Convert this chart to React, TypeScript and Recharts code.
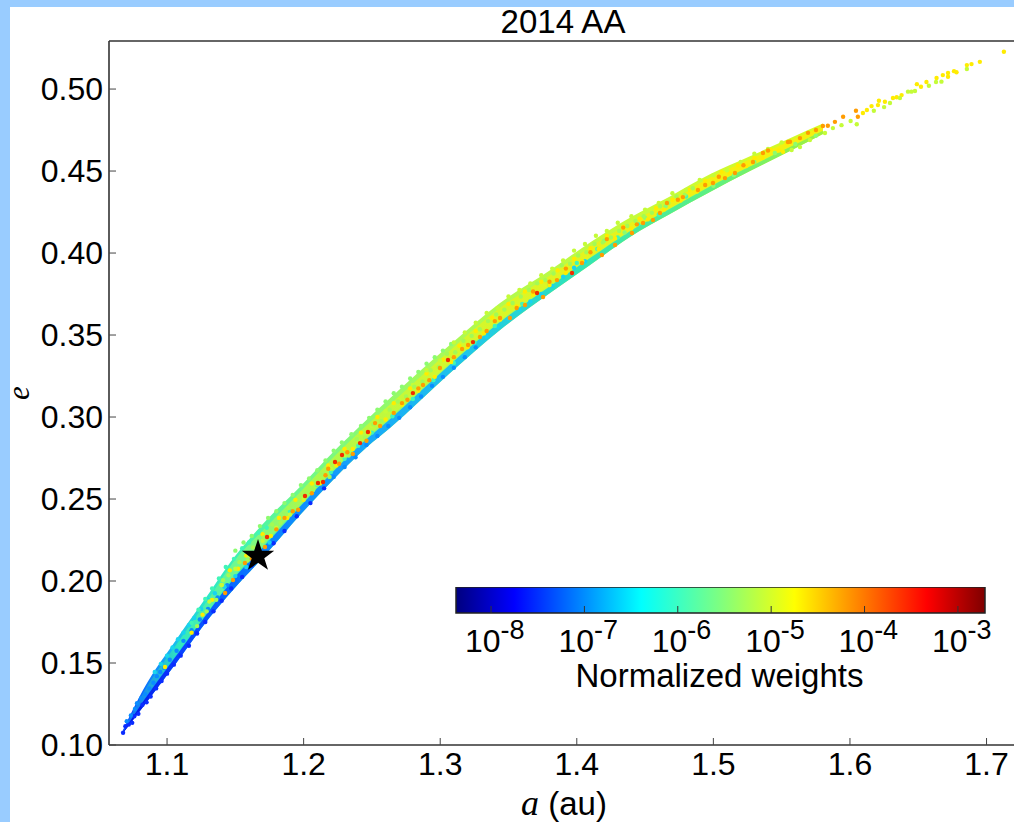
import { ComposedChart, Area, Scatter, XAxis, YAxis, ReferenceArea } from 'recharts';

const FONT = "'Liberation Sans', Arial, sans-serif";

const aTicks = [1.1, 1.2, 1.3, 1.4, 1.5, 1.6, 1.7];
const eTicks = [0.1, 0.15, 0.2, 0.25, 0.3, 0.35, 0.4, 0.45, 0.5];
const weightTicks = [-8, -7, -6, -5, -4, -3];

// outline of the swarm
const edgeA = [1.0678, 1.0824, 1.1073, 1.1315, 1.1483, 1.1732, 1.1974, 1.2215, 1.2464, 1.2632, 1.3072, 1.3438, 1.3804, 1.4097, 1.4389, 1.4682, 1.4975, 1.5268, 1.5561, 1.5802];
const edgeLow = [0.1073, 0.1232, 0.1506, 0.178, 0.1945, 0.2171, 0.2402, 0.2616, 0.2817, 0.2933, 0.3268, 0.353, 0.3756, 0.3927, 0.4098, 0.4238, 0.4372, 0.45, 0.4622, 0.4726];
const edgeUp = [0.1091, 0.1335, 0.165, 0.1935, 0.2135, 0.2375, 0.2575, 0.2785, 0.2985, 0.3115, 0.344, 0.3695, 0.3895, 0.4065, 0.4215, 0.4345, 0.448, 0.459, 0.47, 0.479];
const floorUp = [0.1078, 0.1263, 0.155, 0.1827, 0.2009, 0.2232, 0.2454, 0.2666, 0.2867, 0.2987, 0.332, 0.3579, 0.3798, 0.3969, 0.4133, 0.427, 0.4405, 0.4527, 0.4646, 0.4745];
const coreLow = [0.1079, 0.1268, 0.1556, 0.1833, 0.202, 0.2243, 0.2464, 0.2675, 0.2877, 0.2997, 0.3329, 0.3589, 0.3805, 0.3975, 0.4139, 0.4275, 0.441, 0.4531, 0.4649, 0.4748];
const coreUp = [0.1087, 0.1315, 0.1619, 0.1904, 0.2113, 0.2334, 0.2541, 0.2751, 0.2951, 0.3077, 0.3406, 0.3666, 0.3863, 0.4037, 0.4181, 0.4316, 0.4459, 0.4572, 0.4684, 0.4777];

// points per colour bin, as [a, e]
const bluePts = [[1.0678,.1075],[1.0695,.1115],[1.072,.1125],[1.0745,.1135],[1.076,.1175],[1.079,.119],[1.082,.1245],[1.085,.126],[1.088,.1295],[1.092,.1345],[1.096,.139],[1.1,.1435],[1.105,.149],[1.11,.1545],[1.116,.1605],[1.122,.168],[1.128,.175],[1.134,.1815],[1.14,.188],[1.147,.1955],[1.155,.2025],[1.162,.2095],[1.17,.2165],[1.178,.223],[1.186,.2305],[1.195,.2395],[1.205,.2475],[1.215,.2565]];
const azurePts = [[1.0705,.1145],[1.0735,.118],[1.0765,.122],[1.078,.1255],[1.081,.1285],[1.084,.131],[1.087,.1345],[1.09,.138],[1.0925,.142],[1.095,.1445],[1.098,.147],[1.102,.152],[1.107,.1575],[1.112,.1635],[1.118,.17],[1.124,.1765],[1.13,.183],[1.137,.19],[1.144,.1975],[1.222,.2635],[1.23,.2695],[1.238,.2755],[1.246,.283],[1.254,.2885],[1.262,.2945],[1.27,.2995],[1.278,.306],[1.286,.3125],[1.294,.319],[1.302,.3245],[1.31,.33],[1.318,.3365],[1.326,.3425]];
const cyanPts = [[1.091,.1445],[1.0955,.1495],[1.1,.1545],[1.104,.1595],[1.108,.1645],[1.112,.1685],[1.116,.173],[1.12,.1775],[1.125,.183],[1.13,.1885],[1.135,.1925],[1.142,.1965],[1.15,.203],[1.158,.2085],[1.166,.2145],[1.175,.2235],[1.334,.349],[1.342,.355],[1.35,.36],[1.358,.3655],[1.366,.3705],[1.374,.375],[1.382,.38],[1.39,.3855],[1.398,.391],[1.406,.395]];
const aquaPts = [[1.118,.1745],[1.123,.1825],[1.128,.189],[1.133,.1955],[1.138,.2015],[1.143,.2085],[1.149,.2135],[1.155,.22],[1.16,.2235],[1.167,.2295],[1.173,.2325],[1.19,.2425],[1.2,.25],[1.21,.2585],[1.22,.2665],[1.23,.2745],[1.24,.2825],[1.25,.2905],[1.265,.3005],[1.28,.311],[1.295,.3225],[1.31,.333],[1.325,.3455],[1.34,.3555],[1.36,.369],[1.38,.3805],[1.4,.394],[1.415,.4025],[1.43,.4095],[1.445,.4175],[1.46,.4235],[1.48,.4345]];
const greenPts = [[1.15,.2185],[1.156,.2235],[1.162,.2275],[1.168,.2335],[1.174,.2385],[1.18,.2425],[1.186,.2475],[1.192,.2525],[1.198,.2585],[1.204,.2625],[1.21,.2675],[1.216,.2735],[1.222,.2795],[1.228,.2845],[1.235,.2895],[1.242,.2945],[1.248,.2995],[1.254,.3045],[1.26,.3095],[1.266,.3145],[1.272,.3185],[1.278,.3235],[1.284,.3275],[1.29,.3325],[1.296,.3365],[1.302,.3405],[1.308,.3445],[1.42,.4075],[1.435,.4125],[1.45,.4215],[1.465,.4285],[1.5,.441],[1.515,.4475],[1.53,.4555],[1.545,.461],[1.56,.4665],[1.575,.4715]];
const yellowPts = [[1.0985,.1476],[1.118,.1685],[1.126,.1795],[1.133,.1885],[1.14,.1975],[1.146,.2065],[1.152,.2075],[1.158,.2155],[1.164,.2165],[1.17,.2285],[1.176,.2275],[1.182,.2385],[1.188,.2385],[1.194,.2495],[1.2,.2495],[1.206,.2595],[1.212,.2595],[1.218,.2705],[1.224,.2705],[1.23,.2805],[1.236,.2805],[1.242,.2905],[1.248,.2905],[1.254,.3],[1.26,.2985],[1.266,.3085],[1.272,.3075],[1.278,.3175],[1.284,.316],[1.29,.3265],[1.296,.3245],[1.302,.335],[1.308,.3335],[1.314,.3435],[1.32,.3425],[1.326,.3525],[1.332,.351],[1.338,.3605],[1.344,.3595],[1.35,.369],[1.356,.3675],[1.362,.3765],[1.368,.3745],[1.374,.3825],[1.38,.3805],[1.386,.3895],[1.392,.388],[1.398,.3965],[1.404,.395],[1.41,.403],[1.416,.4025],[1.422,.4105],[1.428,.409],[1.434,.416],[1.44,.415],[1.446,.421],[1.452,.4205],[1.458,.4275],[1.464,.4265],[1.47,.4325],[1.476,.432],[1.482,.4385],[1.488,.4375],[1.494,.444],[1.5,.443],[1.506,.4495],[1.512,.4485],[1.518,.4535],[1.524,.453],[1.53,.458],[1.536,.458],[1.542,.463],[1.548,.4625],[1.554,.467],[1.7127,.5227],[1.6951,.5166],[1.689,.5152],[1.6856,.5146],[1.678,.5102],[1.6762,.5109],[1.6718,.5098],[1.6718,.5075],[1.668,.5085],[1.6634,.5067],[1.656,.5043],[1.652,.5014],[1.649,.503],[1.6378,.4963],[1.6342,.495],[1.6315,.4945],[1.6256,.4923],[1.6212,.4929],[1.6205,.4902],[1.6158,.4896],[1.6124,.4872],[1.6095,.4854],[1.551,.4617]];
const limePts = [[1.131,.1875],[1.14,.1975],[1.15,.2075],[1.16,.2155],[1.17,.2245],[1.18,.2325],[1.19,.2405],[1.2,.2505],[1.21,.2595],[1.22,.2685],[1.23,.2765],[1.24,.2855],[1.25,.2945],[1.26,.3035],[1.27,.3105],[1.28,.3195],[1.29,.3285],[1.3,.3345],[1.31,.3455],[1.318,.3515],[1.326,.3575],[1.334,.3635],[1.342,.3665],[1.35,.3735],[1.358,.3775],[1.366,.3815],[1.374,.3865],[1.382,.3905],[1.39,.3955],[1.398,.4015],[1.406,.4055],[1.414,.4105],[1.422,.4135],[1.43,.4185],[1.44,.4225],[1.45,.4265],[1.46,.4305],[1.47,.4365],[1.48,.4385],[1.49,.4445],[1.5,.4475],[1.51,.4505],[1.52,.4555],[1.53,.4605],[1.54,.4635],[1.55,.4675],[1.605,.4785],[1.6175,.4868],[1.6005,.4805],[1.5938,.478],[1.5875,.4762],[1.5817,.4732],[1.5707,.4689],[1.5634,.4646],[1.5573,.4628],[1.625,.489],[1.6293,.4915],[1.6366,.4945],[1.6476,.4988],[1.645,.4984],[1.6425,.4984],[1.6578,.502],[1.667,.5045],[1.663,.5043],[1.6856,.5122]];
const speckPts = [[1.122,.1725],[1.129,.1815],[1.136,.1885],[1.141,.2005],[1.145,.2035],[1.153,.2115],[1.159,.2125],[1.163,.2205],[1.171,.2265],[1.177,.2345],[1.183,.2355],[1.189,.2445],[1.195,.2455],[1.203,.2545],[1.207,.2555],[1.213,.2655],[1.219,.2635],[1.226,.2725],[1.233,.2765],[1.239,.2865],[1.245,.2875],[1.251,.2955],[1.257,.2975],[1.263,.3045],[1.269,.3095],[1.275,.3125],[1.281,.3185],[1.287,.3215],[1.293,.3285],[1.299,.3305],[1.305,.3385],[1.311,.3395],[1.317,.3465],[1.323,.3495],[1.329,.3535],[1.335,.3585],[1.341,.3625],[1.347,.3655],[1.353,.3695],[1.359,.3735],[1.365,.3775],[1.371,.3815],[1.377,.3835],[1.383,.3875],[1.389,.3925],[1.395,.3935],[1.401,.3985],[1.407,.4005],[1.413,.4055],[1.419,.4065],[1.425,.4095],[1.431,.4135],[1.437,.4165],[1.443,.4195],[1.449,.4225],[1.455,.4245],[1.461,.4285],[1.467,.4305],[1.473,.4345],[1.479,.4355],[1.485,.4395]];
const orangePts = [[1.1425,.1927],[1.1483,.2006],[1.157,.211],[1.1717,.2207],[1.186,.2385],[1.192,.2425],[1.218,.2685],[1.232,.2785],[1.2523,.2963],[1.272,.3085],[1.2874,.3195],[1.2998,.3299],[1.3204,.3439],[1.3291,.3488],[1.3438,.3604],[1.351,.3604],[1.3621,.3683],[1.3753,.3732],[1.3855,.3835],[1.4038,.3939],[1.4184,.3988],[1.428,.4049],[1.4404,.4122],[1.4485,.4183],[1.4558,.4201],[1.4609,.4244],[1.4777,.4341],[1.4887,.4384],[1.4997,.4427],[1.5085,.4457],[1.5158,.4488],[1.529,.4555],[1.5363,.461],[1.5546,.4677],[1.5634,.4701],[1.5838,.4776],[1.5802,.4775],[1.5751,.475],[1.5693,.4733],[1.5561,.4679],[1.589,.48],[1.595,.4831],[1.6044,.4868],[1.6058,.4831],[1.162,.2135],[1.18,.2315],[1.196,.2435],[1.206,.2535],[1.216,.2645],[1.226,.2715],[1.236,.2775],[1.246,.2855],[1.256,.2945],[1.266,.3025],[1.276,.3105],[1.284,.3175],[1.292,.3225],[1.31,.3365],[1.316,.3415],[1.334,.3525],[1.34,.3585],[1.356,.3665],[1.368,.3765],[1.38,.3825],[1.392,.3905],[1.41,.4005],[1.422,.4085],[1.434,.4155],[1.444,.4175],[1.466,.4305],[1.474,.4325],[1.494,.4415],[1.504,.4465],[1.522,.4535],[1.54,.4625]];
const redPts = [[1.1732,.2268],[1.201,.2518],[1.2105,.2598],[1.2142,.2604],[1.223,.2726],[1.2281,.2768],[1.2413,.2841],[1.2471,.2909],[1.28,.3146],[1.3057,.3348],[1.324,.3457],[1.3709,.3756],[1.3965,.3878]];
const starPt = [[1.1666, 0.2152]];

const colorW = [-8.375, -2.71];
const colorV = [1, 1];

const swarm = edgeA.map((a, i) => ({
  a,
  band: [edgeLow[i], edgeUp[i]],
  floor: [edgeLow[i], floorUp[i]],
  core: [coreLow[i], coreUp[i]],
}));
const colorRows = colorW.map((w, i) => ({ w, v: colorV[i] }));
const toRows = (pts: number[][]) => pts.map(([a, e]) => ({ a, e }));

const bins: [number[][], string][] = [
  [bluePts, '#0a2cff'],
  [azurePts, '#0a8cff'],
  [cyanPts, '#18d4f0'],
  [aquaPts, '#40f6b8'],
  [greenPts, '#8cfc70'],
  [yellowPts, '#ffec00'],
  [limePts, '#c4fc38'],
  [speckPts, '#a4fa54'],
  [orangePts, '#ff9c00'],
  [redPts, '#f02c00'],
];

const Dot = (fill: string) => (p: any) => <circle cx={p.cx} cy={p.cy} r={2.2} fill={fill} />;

const StarMark = (p: any) => {
  const pts = [];
  for (let i = 0; i < 10; i++) {
    const r = i % 2 ? 6.6 : 17;
    const t = -Math.PI / 2 + (i * Math.PI) / 5;
    pts.push(`${p.cx + r * Math.cos(t)},${p.cy + r * Math.sin(t)}`);
  }
  return <polygon points={pts.join(' ')} fill="#000" />;
};

const WeightTick = (p: any) => (
  <g>
    <line x1={p.x} x2={p.x} y1={p.y} y2={p.y - 7} stroke="#333" />
    <text x={p.x - 26} y={p.y + 39} fontFamily={FONT} fontSize={32} fill="#000">
      10<tspan dy={-13} fontSize={27}>{p.payload.value}</tspan>
    </text>
  </g>
);

const axisLine = { stroke: '#333', strokeWidth: 1.6 };
const tickLine = { stroke: '#444', strokeWidth: 1 };
const tickFont = { fontFamily: FONT, fontSize: 32, fill: '#000' };

export default function App() {
  return (
    <div style={{ position: 'fixed', left: 0, top: 0, width: 1014, height: 822, overflow: 'hidden', background: '#99ccff' }}>
      <div style={{ position: 'absolute', left: 10, top: 7, right: 0, bottom: 0, background: '#fff' }} />
      <div style={{ position: 'absolute', left: 0, top: 0 }}>
        <ComposedChart width={1040} height={822} data={swarm} margin={{ top: 0, right: 0, bottom: 0, left: 0 }}>
          <defs>
            <linearGradient id="bandFill" x1="0" y1="0" x2="1" y2="0">
              <stop offset="0" stopColor="#0a30ff" />
              <stop offset="0.03" stopColor="#0a70ff" />
              <stop offset="0.07" stopColor="#18b8f0" />
              <stop offset="0.12" stopColor="#2ce8c8" />
              <stop offset="0.18" stopColor="#48f4a8" />
              <stop offset="0.26" stopColor="#70f888" />
              <stop offset="0.45" stopColor="#a8fa58" />
              <stop offset="0.75" stopColor="#c8fb38" />
              <stop offset="1" stopColor="#d8fa20" />
            </linearGradient>
            <linearGradient id="floorFill" x1="0" y1="0" x2="1" y2="0">
              <stop offset="0" stopColor="#0010e0" />
              <stop offset="0.08" stopColor="#0a40ff" />
              <stop offset="0.2" stopColor="#0a80ff" />
              <stop offset="0.35" stopColor="#18a8f8" />
              <stop offset="0.5" stopColor="#20c8e8" />
              <stop offset="0.65" stopColor="#30e4b8" />
              <stop offset="0.85" stopColor="#60f080" />
              <stop offset="1" stopColor="#a0f040" />
            </linearGradient>
            <linearGradient id="coreFill" x1="0" y1="0" x2="1" y2="0">
              <stop offset="0" stopColor="#0a60ff" />
              <stop offset="0.08" stopColor="#30e8c0" />
              <stop offset="0.16" stopColor="#70f890" />
              <stop offset="0.26" stopColor="#a8fa50" />
              <stop offset="0.45" stopColor="#d0f830" />
              <stop offset="0.85" stopColor="#f4f010" />
            </linearGradient>
          </defs>
          <XAxis dataKey="a" type="number" domain={[1.0575, 1.7245]} ticks={aTicks} height={77} allowDataOverflow
            axisLine={axisLine} tickLine={tickLine} tickSize={-7} tickMargin={14} tick={tickFont}
            interval={0} tickFormatter={(v: number) => v.toFixed(1)} />
          <XAxis xAxisId="top" orientation="top" dataKey="a" type="number" domain={[1.0575, 1.7245]} ticks={aTicks} height={41} allowDataOverflow
            axisLine={axisLine} tickLine={tickLine} tickSize={-7} tick={false} interval={0} />
          <YAxis type="number" domain={[0.1, 0.5293]} ticks={eTicks} width={109} allowDataOverflow
            axisLine={axisLine} tickLine={tickLine} tickSize={-7} tickMargin={13} tick={tickFont}
            interval={0} tickFormatter={(v: number) => v.toFixed(2)} />
          <YAxis yAxisId="right" orientation="right" type="number" domain={[0.1, 0.5293]} ticks={eTicks} width={20} allowDataOverflow
            axisLine={axisLine} tickLine={tickLine} tickSize={-7} tick={false} interval={0} />

          <Area type="monotone" dataKey="band" stroke="none" fill="url(#bandFill)" fillOpacity={1} isAnimationActive={false} />
          <Area type="monotone" dataKey="floor" stroke="none" fill="url(#floorFill)" fillOpacity={1} isAnimationActive={false} />
          <Area type="monotone" dataKey="core" stroke="none" fill="url(#coreFill)" fillOpacity={1} isAnimationActive={false} />

          {bins.map(([pts, fill]) => (
            <Scatter key={fill} data={toRows(pts)} dataKey="e" shape={Dot(fill)} isAnimationActive={false} />
          ))}
          <Scatter data={toRows(starPt)} dataKey="e" shape={StarMark} isAnimationActive={false} />

          <text x={563} y={33} textAnchor="middle" fontFamily={FONT} fontSize={33} fill="#000">2014 AA</text>
          <text x={564} y={815} textAnchor="middle" fontFamily={FONT} fontSize={33} fill="#000">
            <tspan fontFamily="'Liberation Serif', serif" fontStyle="italic" fontSize={36}>a</tspan> (au)
          </text>
          <text transform="translate(28.5,393) rotate(-90)" textAnchor="middle" fontFamily="'Liberation Serif', serif" fontStyle="italic" fontSize={31} fill="#000">e</text>
        </ComposedChart>
      </div>
      <div style={{ position: 'absolute', left: 436, top: 587 }}>
        <ComposedChart width={570} height={110} data={colorRows} margin={{ top: 0, right: 21, bottom: 0, left: 20 }}>
          <defs>
            <linearGradient id="jetFill" x1="0" y1="0" x2="1" y2="0">
              <stop offset="0" stopColor="#00007f" />
              <stop offset="0.11" stopColor="#0000ff" />
              <stop offset="0.35" stopColor="#00ffff" />
              <stop offset="0.5" stopColor="#7fff7f" />
              <stop offset="0.64" stopColor="#ffff00" />
              <stop offset="0.89" stopColor="#ff0000" />
              <stop offset="1" stopColor="#7f0000" />
            </linearGradient>
          </defs>
          <XAxis dataKey="w" type="number" domain={[-8.375, -2.71]} ticks={weightTicks} height={84} allowDataOverflow
            axisLine={false} tickLine={false} tickSize={0} tickMargin={0} tick={WeightTick} interval={0} />
          <YAxis type="number" domain={[0, 1]} hide />
          <Area dataKey="v" stroke="none" fill="url(#jetFill)" fillOpacity={1} isAnimationActive={false} />
          <ReferenceArea x1={-8.375} x2={-2.71} y1={0} y2={1} fill="none" stroke="#222" strokeWidth={1.5} />
          <text x={283.5} y={100} textAnchor="middle" fontFamily={FONT} fontSize={33} fill="#000">Normalized weights</text>
        </ComposedChart>
      </div>
    </div>
  );
}
